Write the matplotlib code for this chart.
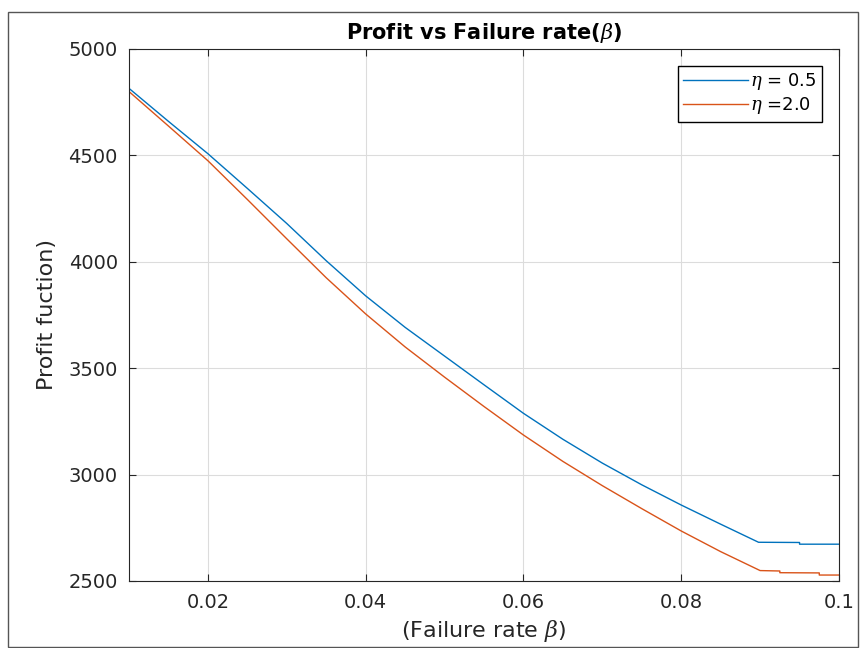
import numpy as np
import matplotlib.pyplot as plt
from matplotlib.patches import Rectangle

# failure rate beta
beta_a = [0.010, 0.015, 0.020, 0.025, 0.030, 0.035, 0.040, 0.045, 0.050, 0.055,
          0.060, 0.065, 0.070, 0.075, 0.080, 0.085, 0.0898, 0.0950, 0.0950, 0.100]
# profit, eta = 0.5
profit_a = [4815, 4660, 4508, 4345, 4180, 4005, 3840, 3692, 3557, 3422,
            3288, 3166, 3054, 2952, 2857, 2767, 2682, 2681, 2673, 2673]

beta_b = [0.010, 0.015, 0.020, 0.025, 0.030, 0.035, 0.040, 0.045, 0.050, 0.055,
          0.060, 0.065, 0.070, 0.075, 0.080, 0.085, 0.090, 0.0925, 0.0925, 0.0975,
          0.0975, 0.100]
# profit, eta = 2.0
profit_b = [4800, 4638, 4475, 4293, 4108, 3925, 3755, 3600, 3458, 3320,
            3186, 3062, 2948, 2840, 2735, 2638, 2549, 2547, 2539, 2538,
            2528, 2528]

labels = [r'$\eta$ = 0.5', r'$\eta$ =2.0']
xticks = [0.02, 0.04, 0.06, 0.08, 0.1]
xticklabels = ['0.02', '0.04', '0.06', '0.08', '0.1']
yticks = [2500, 3000, 3500, 4000, 4500, 5000]

txt = '#262626'
plt.rcParams['mathtext.fontset'] = 'dejavuserif'

fig = plt.figure(figsize=(8.68, 6.48), dpi=100)
ax = fig.add_axes([129/868, 1-581/648, 710/868, 532/648])

ax.plot(beta_a, profit_a, color=(0, 0.447, 0.741), lw=1.0, label=labels[0])
ax.plot(beta_b, profit_b, color=(0.85, 0.325, 0.098), lw=1.0, label=labels[1])

ax.set_xlim(0.01, 0.1)
ax.set_ylim(2500, 5000)
ax.set_xticks(xticks)
ax.set_xticklabels(xticklabels)
ax.set_yticks(yticks)
ax.grid(True, color='#dcdcdc', lw=0.8)
ax.tick_params(direction='in', top=True, right=True, length=5, width=0.8,
               colors=txt, labelsize=14, labelcolor=txt)
ax.tick_params(axis='x', pad=9)
ax.tick_params(axis='y', pad=8)
for s in ax.spines.values():
    s.set_color(txt)
    s.set_linewidth(0.8)

ax.set_title(r'Profit vs Failure rate($\beta$)', fontsize=15, fontweight='bold',
             color='black', pad=7)
ax.set_xlabel(r'(Failure rate $\beta$)', fontsize=16, color=txt, labelpad=4)
ax.set_ylabel('Profit fuction)', fontsize=16, color=txt, labelpad=8)

leg = ax.legend(loc='upper right', bbox_to_anchor=(0.976, 0.968), fontsize=13,
                handlelength=3.6, handletextpad=0.1, borderpad=0.3,
                labelspacing=0.15, borderaxespad=0, fancybox=False,
                framealpha=1)
leg.get_frame().set_edgecolor('black')
leg.get_frame().set_linewidth(1.0)

fig.patches.append(Rectangle((8/868, 0.002), 850/868, 1-12/648-0.002,
                             transform=fig.transFigure, fill=False,
                             edgecolor='#555555', lw=1.0))

fig.savefig('out.png', dpi=100)
